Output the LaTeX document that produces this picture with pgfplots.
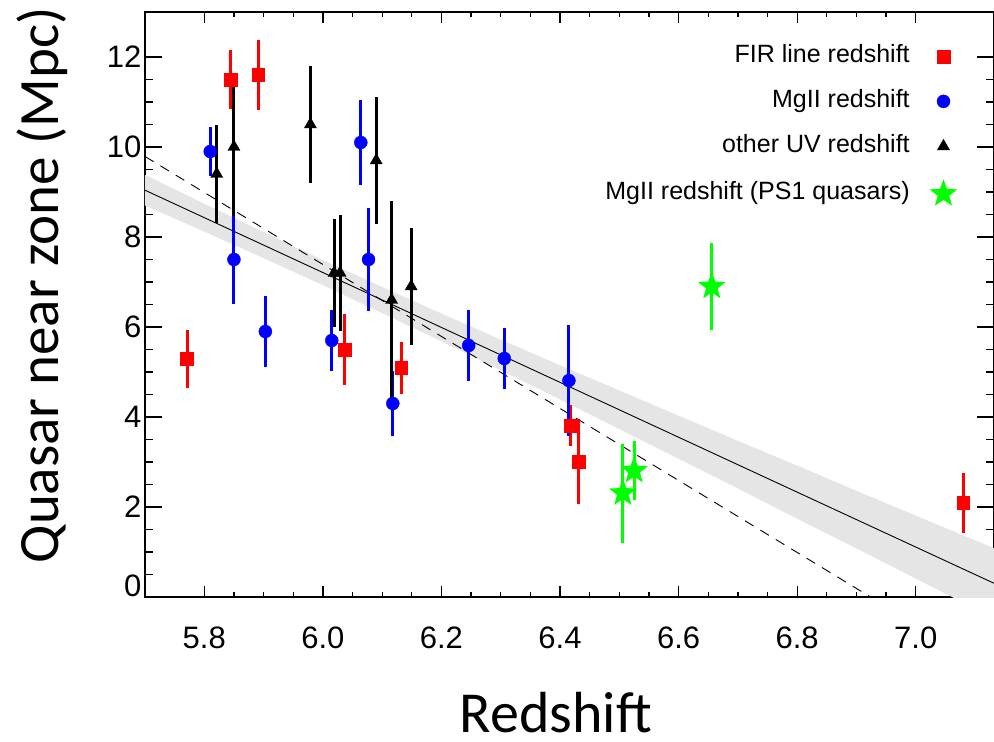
\documentclass[border=0pt]{standalone}
\usepackage{pgfplots}
\pgfplotsset{compat=1.18}
\usepackage{fontspec}
\setmainfont{Liberation Sans}
\newfontfamily\calibri{Carlito}
\definecolor{bandgray}{RGB}{229,229,229}
\pgfdeclareplotmark{fstar}{%
  \pgfpathmoveto{\pgfpointpolar{90}{\pgfplotmarksize}}%
  \pgfpathlineto{\pgfpointpolar{126}{0.42\pgfplotmarksize}}%
  \pgfpathlineto{\pgfpointpolar{162}{\pgfplotmarksize}}%
  \pgfpathlineto{\pgfpointpolar{198}{0.42\pgfplotmarksize}}%
  \pgfpathlineto{\pgfpointpolar{234}{\pgfplotmarksize}}%
  \pgfpathlineto{\pgfpointpolar{270}{0.42\pgfplotmarksize}}%
  \pgfpathlineto{\pgfpointpolar{306}{\pgfplotmarksize}}%
  \pgfpathlineto{\pgfpointpolar{342}{0.42\pgfplotmarksize}}%
  \pgfpathlineto{\pgfpointpolar{18}{\pgfplotmarksize}}%
  \pgfpathlineto{\pgfpointpolar{54}{0.42\pgfplotmarksize}}%
  \pgfpathclose
  \pgfusepathqfill
}
\pgfplotstableread{
x y e
5.771 5.29 0.65
5.844 11.50 0.66
5.891 11.60 0.78
6.037 5.50 0.78
6.132 5.09 0.57
6.418 3.81 0.45
6.431 3.01 0.94
7.080 2.09 0.66
}\firdata
\pgfplotstableread{
x y e
5.810 9.90 0.55
5.850 7.50 0.98
5.903 5.90 0.79
6.015 5.70 0.68
6.064 10.10 0.94
6.077 7.50 1.14
6.118 4.30 0.72
6.246 5.59 0.79
6.306 5.30 0.68
6.415 4.81 1.23
}\mgdata
\pgfplotstableread{
x y e
5.821 9.40 1.09
5.850 10.00 1.54
5.979 10.50 1.29
6.019 7.20 1.19
6.029 7.20 1.28
6.090 9.70 1.41
6.116 6.60 2.19
6.149 6.90 1.29
}\uvdata
\pgfplotstableread{
x y e
6.506 2.31 1.10
6.525 2.81 0.65
6.656 6.90 0.96
}\psdata
\begin{document}
\begin{tikzpicture}[x=1pt,y=1pt]
\path[use as bounding box] (-145,-145) rectangle (849,597);
\begin{axis}[
  at={(0,0)}, anchor=south west,
  scale only axis, width=849pt, height=585pt,
  xmin=5.7, xmax=7.132, ymin=0, ymax=13,
  xtick={5.8,6.0,6.2,6.4,6.6,6.8,7.0},
  xticklabels={5.8,6.0,6.2,6.4,6.6,6.8,7.0},
  minor x tick num=3,
  ytick={0,2,4,6,8,10,12},
  yticklabels={,2,4,6,8,10,12},
  extra y ticks={0}, extra y tick labels={0},
  extra y tick style={yticklabel style={yshift=11pt}},
  minor y tick num=3,
  tick align=inside,
  /pgf/number format/assume math mode=true,
  tick label style={font=\fontsize{31}{31}\selectfont, black},
  xticklabel style={yshift=-26pt},
  major x tick style={/pgfplots/major tick length=11pt},
  minor x tick style={/pgfplots/minor tick length=5pt},
  major y tick style={/pgfplots/major tick length=17pt},
  minor y tick style={/pgfplots/minor tick length=8pt},
  every tick/.style={black, line width=1.3pt},
  axis line style={line width=1.6pt},
  xlabel={Redshift},
  xlabel style={at={(axis description cs:0.484,-0.197)}, anchor=center, inner sep=0pt, font=\calibri\fontsize{58}{58}\selectfont},
  ylabel={Quasar near zone (Mpc)},
  ylabel style={at={(axis description cs:-0.121,0.533)}, anchor=center, inner sep=0pt, font=\calibri\fontsize{57}{57}\selectfont},
  legend plot pos=right,
  legend cell align=right,
  legend style={draw=none, fill=none, inner sep=0pt,
    font=\fontsize{25}{25}\selectfont,
    at={(axis description cs:0.957,0.945)}, anchor=north east,
    row sep=21pt, column sep=20pt,
    nodes={inner sep=0pt, text height=18pt, text depth=6pt}},
]
% confidence band
\addplot[draw=none, fill=bandgray, forget plot] coordinates {
(5.70,9.38) (5.80,8.74) (5.90,8.11) (6.00,7.49) (6.10,6.89) (6.20,6.30)
(6.30,5.72) (6.40,5.15) (6.50,4.59) (6.60,4.03) (6.70,3.47) (6.80,2.92)
(6.90,2.36) (7.00,1.81) (7.10,1.26) (7.15,0.99)
(7.15,-0.60) (7.10,-0.26) (7.00,0.41) (6.90,1.08) (6.80,1.74) (6.70,2.41)
(6.60,3.07) (6.50,3.73) (6.40,4.39) (6.30,5.04) (6.20,5.68) (6.10,6.31)
(6.00,6.93) (5.90,7.53) (5.80,8.12) (5.70,8.70)
} -- cycle;
\addplot[black, line width=0.9pt, forget plot] coordinates {(5.70,9.04) (7.132,0.305)};
\addplot[black, line width=0.9pt, dash pattern=on 10pt off 8pt, forget plot] coordinates {(5.70,9.79) (6.95,-0.21)};
% data
\addplot[only marks, mark=square*, mark size=6.4pt, color=red,
  error bars/.cd, y dir=both, y explicit, error mark=none,
  error bar style={line width=3pt, red}]
  table[x=x, y=y, y error=e] {\firdata};
\addlegendentry{FIR line redshift}
\addplot[only marks, mark=*, mark size=6.5pt, color=blue,
  error bars/.cd, y dir=both, y explicit, error mark=none,
  error bar style={line width=3pt, blue}]
  table[x=x, y=y, y error=e] {\mgdata};
\addlegendentry{MgII redshift}
\addplot[only marks, mark=triangle*, mark size=7pt, color=black,
  error bars/.cd, y dir=both, y explicit, error mark=none,
  error bar style={line width=3pt, black}]
  table[x=x, y=y, y error=e] {\uvdata};
\addlegendentry{other UV redshift}
\addplot[only marks, mark=fstar, mark size=14.5pt, color=green,
  error bars/.cd, y dir=both, y explicit, error mark=none,
  error bar style={line width=3pt, green}]
  table[x=x, y=y, y error=e] {\psdata};
\addlegendentry{MgII redshift (PS1 quasars)}
\end{axis}
\end{tikzpicture}
\end{document}
